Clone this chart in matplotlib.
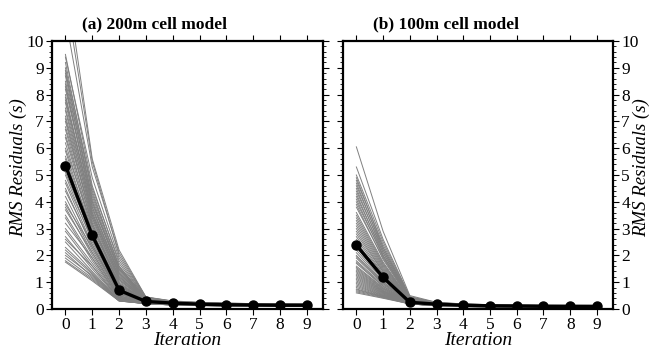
import matplotlib
matplotlib.use("Agg")
import matplotlib.pyplot as plt
from matplotlib.ticker import MultipleLocator

plt.rcParams['font.family'] = ['Liberation Serif', 'DejaVu Serif']

iterations = [0, 1, 2, 3, 4, 5, 6, 7, 8, 9]
titles = ["(a) 200m cell model", "(b) 100m cell model"]
ylabel = "RMS Residuals (s)"
xlabel = "Iteration"

# mean curves (black)
mean_a = [5.35, 2.75, 0.70, 0.28, 0.22, 0.18, 0.16, 0.15, 0.14, 0.14]
mean_b = [2.38, 1.18, 0.25, 0.18, 0.14, 0.12, 0.11, 0.10, 0.10, 0.10]

# individual curves (gray), one list per iteration, one value per curve
gray_a = [
    [12.5, 11.8, 10.9, 9.5, 9.4, 9.2, 9.0, 8.9, 8.8, 8.7, 8.5, 8.4, 8.3, 8.2, 8.0, 7.9, 7.8, 7.7, 7.5, 7.4,
     7.2, 7.1, 7.0, 6.8, 6.7, 6.5, 6.4, 6.2, 6.0, 5.9, 5.7, 5.6, 5.5, 5.3, 5.1, 5.0, 4.8, 4.7, 4.5, 4.4,
     4.2, 4.0, 3.9, 3.8, 3.7, 3.5, 3.4, 3.2, 3.0, 2.9, 2.7, 2.6, 2.5, 2.3, 2.2, 2.1, 2.0, 1.9, 1.8, 1.75],
    [5.6, 5.5, 5.3, 4.6, 4.9, 4.3, 4.5, 4.1, 4.4, 4.0, 4.2, 3.8, 4.0, 3.9, 3.6, 3.8, 3.7, 3.5, 3.6, 3.4,
     3.5, 3.3, 3.2, 3.4, 3.1, 3.2, 3.0, 2.9, 3.1, 2.8, 2.9, 2.7, 2.8, 2.6, 2.7, 2.5, 2.6, 2.4, 2.3, 2.4,
     2.2, 2.1, 2.3, 2.0, 2.1, 1.9, 1.8, 1.9, 1.7, 1.6, 1.5, 1.6, 1.4, 1.35, 1.3, 1.2, 1.25, 1.15, 1.1, 1.05],
    [2.2, 2.0, 2.1, 1.7, 1.9, 1.6, 1.8, 1.5, 1.55, 1.45, 1.6, 1.35, 1.4, 1.5, 1.3, 1.25, 1.35, 1.2, 1.15, 1.1,
     1.2, 1.05, 1.0, 1.1, 0.95, 0.9, 0.95, 0.85, 0.9, 0.8, 0.85, 0.75, 0.8, 0.7, 0.72, 0.65, 0.68, 0.6, 0.62, 0.58,
     0.55, 0.5, 0.56, 0.48, 0.5, 0.45, 0.42, 0.44, 0.4, 0.38, 0.36, 0.37, 0.34, 0.33, 0.32, 0.31, 0.32, 0.3, 0.3, 0.3],
    [0.45, 0.44, 0.44, 0.42, 0.43, 0.40, 0.41, 0.39, 0.40, 0.38, 0.39, 0.37, 0.38, 0.38, 0.36, 0.35, 0.36, 0.34, 0.34, 0.33,
     0.34, 0.32, 0.31, 0.32, 0.30, 0.30, 0.31, 0.29, 0.30, 0.28, 0.29, 0.27, 0.28, 0.27, 0.27, 0.26, 0.26, 0.25, 0.25, 0.25,
     0.24, 0.24, 0.24, 0.23, 0.23, 0.23, 0.22, 0.22, 0.22, 0.21, 0.21, 0.21, 0.21, 0.20, 0.20, 0.20, 0.20, 0.20, 0.20, 0.20],
    [0.30, 0.29, 0.29, 0.28, 0.28, 0.27, 0.27, 0.26, 0.27, 0.26, 0.26, 0.25, 0.25, 0.25, 0.24, 0.24, 0.24, 0.23, 0.23, 0.23,
     0.23, 0.22, 0.22, 0.22, 0.22, 0.21, 0.21, 0.21, 0.21, 0.20, 0.20, 0.20, 0.20, 0.20, 0.19, 0.19, 0.19, 0.19, 0.18, 0.18,
     0.18, 0.18, 0.18, 0.17, 0.17, 0.17, 0.17, 0.17, 0.16, 0.16, 0.16, 0.16, 0.16, 0.16, 0.15, 0.15, 0.15, 0.15, 0.15, 0.15],
    [0.25, 0.24, 0.24, 0.23, 0.23, 0.22, 0.22, 0.22, 0.22, 0.21, 0.21, 0.21, 0.21, 0.20, 0.20, 0.20, 0.20, 0.19, 0.19, 0.19,
     0.19, 0.19, 0.18, 0.18, 0.18, 0.18, 0.18, 0.17, 0.17, 0.17, 0.17, 0.17, 0.17, 0.16, 0.16, 0.16, 0.16, 0.16, 0.16, 0.15,
     0.15, 0.15, 0.15, 0.15, 0.15, 0.14, 0.14, 0.14, 0.14, 0.14, 0.14, 0.14, 0.13, 0.13, 0.13, 0.13, 0.13, 0.13, 0.13, 0.13],
    [0.22, 0.22, 0.21, 0.21, 0.21, 0.20, 0.20, 0.20, 0.20, 0.19, 0.19, 0.19, 0.19, 0.18, 0.18, 0.18, 0.18, 0.18, 0.17, 0.17,
     0.17, 0.17, 0.17, 0.16, 0.16, 0.16, 0.16, 0.16, 0.16, 0.15, 0.15, 0.15, 0.15, 0.15, 0.15, 0.14, 0.14, 0.14, 0.14, 0.14,
     0.14, 0.14, 0.13, 0.13, 0.13, 0.13, 0.13, 0.13, 0.13, 0.12, 0.12, 0.12, 0.12, 0.12, 0.12, 0.12, 0.12, 0.12, 0.12, 0.12],
    [0.20, 0.20, 0.20, 0.19, 0.19, 0.19, 0.19, 0.18, 0.18, 0.18, 0.18, 0.18, 0.17, 0.17, 0.17, 0.17, 0.17, 0.16, 0.16, 0.16,
     0.16, 0.16, 0.16, 0.15, 0.15, 0.15, 0.15, 0.15, 0.15, 0.14, 0.14, 0.14, 0.14, 0.14, 0.14, 0.14, 0.13, 0.13, 0.13, 0.13,
     0.13, 0.13, 0.13, 0.12, 0.12, 0.12, 0.12, 0.12, 0.12, 0.12, 0.12, 0.11, 0.11, 0.11, 0.11, 0.11, 0.11, 0.11, 0.11, 0.11],
    [0.19, 0.19, 0.19, 0.18, 0.18, 0.18, 0.18, 0.17, 0.17, 0.17, 0.17, 0.17, 0.16, 0.16, 0.16, 0.16, 0.16, 0.15, 0.15, 0.15,
     0.15, 0.15, 0.15, 0.14, 0.14, 0.14, 0.14, 0.14, 0.14, 0.14, 0.13, 0.13, 0.13, 0.13, 0.13, 0.13, 0.13, 0.12, 0.12, 0.12,
     0.12, 0.12, 0.12, 0.12, 0.11, 0.11, 0.11, 0.11, 0.11, 0.11, 0.11, 0.11, 0.10, 0.10, 0.10, 0.10, 0.10, 0.10, 0.10, 0.10],
    [0.18, 0.18, 0.18, 0.18, 0.17, 0.17, 0.17, 0.17, 0.17, 0.16, 0.16, 0.16, 0.16, 0.16, 0.15, 0.15, 0.15, 0.15, 0.15, 0.15,
     0.14, 0.14, 0.14, 0.14, 0.14, 0.14, 0.14, 0.13, 0.13, 0.13, 0.13, 0.13, 0.13, 0.13, 0.12, 0.12, 0.12, 0.12, 0.12, 0.12,
     0.12, 0.12, 0.11, 0.11, 0.11, 0.11, 0.11, 0.11, 0.11, 0.11, 0.10, 0.10, 0.10, 0.10, 0.10, 0.10, 0.10, 0.10, 0.10, 0.10],
]

gray_b = [
    [6.05, 5.3, 5.0, 4.9, 4.8, 4.7, 4.6, 4.5, 4.4, 4.3, 4.2, 4.1, 4.0, 3.9, 3.8, 3.6, 3.5, 3.4, 3.3, 3.2,
     3.1, 3.0, 2.9, 2.8, 2.7, 2.6, 2.5, 2.45, 2.4, 2.3, 2.2, 2.1, 2.0, 1.95, 1.9, 1.8, 1.75, 1.7, 1.6, 1.55,
     1.5, 1.45, 1.4, 1.35, 1.3, 1.25, 1.2, 1.15, 1.1, 1.05, 1.0, 0.95, 0.9, 0.85, 0.8, 0.75, 0.72, 0.68, 0.64, 0.6],
    [2.9, 2.6, 2.5, 2.3, 2.4, 2.2, 2.3, 2.1, 2.2, 2.0, 2.1, 1.95, 2.0, 1.85, 1.9, 1.75, 1.7, 1.65, 1.6, 1.55,
     1.5, 1.45, 1.4, 1.38, 1.32, 1.28, 1.22, 1.2, 1.18, 1.12, 1.08, 1.02, 1.0, 0.96, 0.94, 0.9, 0.86, 0.84, 0.8, 0.78,
     0.75, 0.73, 0.7, 0.68, 0.66, 0.64, 0.62, 0.6, 0.58, 0.56, 0.54, 0.52, 0.5, 0.49, 0.47, 0.46, 0.45, 0.44, 0.42, 0.4],
    [0.50, 0.46, 0.45, 0.42, 0.44, 0.40, 0.42, 0.38, 0.40, 0.37, 0.38, 0.36, 0.37, 0.34, 0.35, 0.33, 0.32, 0.32, 0.31, 0.30,
     0.30, 0.29, 0.29, 0.28, 0.28, 0.27, 0.27, 0.26, 0.26, 0.26, 0.25, 0.25, 0.25, 0.24, 0.24, 0.24, 0.23, 0.23, 0.23, 0.23,
     0.22, 0.22, 0.22, 0.22, 0.21, 0.21, 0.21, 0.21, 0.21, 0.20, 0.20, 0.20, 0.20, 0.20, 0.20, 0.20, 0.19, 0.19, 0.19, 0.19],
    [0.25, 0.24, 0.24, 0.23, 0.23, 0.22, 0.22, 0.22, 0.21, 0.21, 0.21, 0.20, 0.20, 0.20, 0.20, 0.19, 0.19, 0.19, 0.19, 0.18,
     0.18, 0.18, 0.18, 0.17, 0.17, 0.17, 0.17, 0.17, 0.16, 0.16, 0.16, 0.16, 0.16, 0.15, 0.15, 0.15, 0.15, 0.15, 0.15, 0.14,
     0.14, 0.14, 0.14, 0.14, 0.14, 0.13, 0.13, 0.13, 0.13, 0.13, 0.13, 0.13, 0.12, 0.12, 0.12, 0.12, 0.12, 0.12, 0.12, 0.12],
    [0.19, 0.19, 0.18, 0.18, 0.18, 0.17, 0.17, 0.17, 0.17, 0.16, 0.16, 0.16, 0.16, 0.16, 0.15, 0.15, 0.15, 0.15, 0.15, 0.14,
     0.14, 0.14, 0.14, 0.14, 0.14, 0.13, 0.13, 0.13, 0.13, 0.13, 0.13, 0.12, 0.12, 0.12, 0.12, 0.12, 0.12, 0.12, 0.11, 0.11,
     0.11, 0.11, 0.11, 0.11, 0.11, 0.11, 0.10, 0.10, 0.10, 0.10, 0.10, 0.10, 0.10, 0.10, 0.10, 0.09, 0.09, 0.09, 0.09, 0.09],
    [0.16, 0.16, 0.16, 0.15, 0.15, 0.15, 0.15, 0.15, 0.14, 0.14, 0.14, 0.14, 0.14, 0.14, 0.13, 0.13, 0.13, 0.13, 0.13, 0.13,
     0.12, 0.12, 0.12, 0.12, 0.12, 0.12, 0.12, 0.11, 0.11, 0.11, 0.11, 0.11, 0.11, 0.11, 0.11, 0.10, 0.10, 0.10, 0.10, 0.10,
     0.10, 0.10, 0.10, 0.10, 0.09, 0.09, 0.09, 0.09, 0.09, 0.09, 0.09, 0.09, 0.09, 0.09, 0.08, 0.08, 0.08, 0.08, 0.08, 0.08],
    [0.15, 0.15, 0.14, 0.14, 0.14, 0.14, 0.14, 0.14, 0.13, 0.13, 0.13, 0.13, 0.13, 0.13, 0.12, 0.12, 0.12, 0.12, 0.12, 0.12,
     0.12, 0.11, 0.11, 0.11, 0.11, 0.11, 0.11, 0.11, 0.11, 0.10, 0.10, 0.10, 0.10, 0.10, 0.10, 0.10, 0.10, 0.10, 0.09, 0.09,
     0.09, 0.09, 0.09, 0.09, 0.09, 0.09, 0.09, 0.09, 0.08, 0.08, 0.08, 0.08, 0.08, 0.08, 0.08, 0.08, 0.08, 0.08, 0.08, 0.08],
    [0.14, 0.14, 0.14, 0.13, 0.13, 0.13, 0.13, 0.13, 0.13, 0.12, 0.12, 0.12, 0.12, 0.12, 0.12, 0.12, 0.11, 0.11, 0.11, 0.11,
     0.11, 0.11, 0.11, 0.11, 0.10, 0.10, 0.10, 0.10, 0.10, 0.10, 0.10, 0.10, 0.10, 0.10, 0.09, 0.09, 0.09, 0.09, 0.09, 0.09,
     0.09, 0.09, 0.09, 0.09, 0.08, 0.08, 0.08, 0.08, 0.08, 0.08, 0.08, 0.08, 0.08, 0.08, 0.08, 0.07, 0.07, 0.07, 0.07, 0.07],
    [0.14, 0.13, 0.13, 0.13, 0.13, 0.13, 0.12, 0.12, 0.12, 0.12, 0.12, 0.12, 0.12, 0.11, 0.11, 0.11, 0.11, 0.11, 0.11, 0.11,
     0.11, 0.10, 0.10, 0.10, 0.10, 0.10, 0.10, 0.10, 0.10, 0.10, 0.10, 0.09, 0.09, 0.09, 0.09, 0.09, 0.09, 0.09, 0.09, 0.09,
     0.09, 0.08, 0.08, 0.08, 0.08, 0.08, 0.08, 0.08, 0.08, 0.08, 0.08, 0.08, 0.07, 0.07, 0.07, 0.07, 0.07, 0.07, 0.07, 0.07],
    [0.13, 0.13, 0.13, 0.13, 0.12, 0.12, 0.12, 0.12, 0.12, 0.12, 0.12, 0.11, 0.11, 0.11, 0.11, 0.11, 0.11, 0.11, 0.11, 0.10,
     0.10, 0.10, 0.10, 0.10, 0.10, 0.10, 0.10, 0.10, 0.10, 0.09, 0.09, 0.09, 0.09, 0.09, 0.09, 0.09, 0.09, 0.09, 0.09, 0.08,
     0.08, 0.08, 0.08, 0.08, 0.08, 0.08, 0.08, 0.08, 0.08, 0.08, 0.07, 0.07, 0.07, 0.07, 0.07, 0.07, 0.07, 0.07, 0.07, 0.07],
]

W, H = 655, 351
fig = plt.figure(figsize=(W / 100, H / 100), dpi=100)
ax_a = fig.add_axes([52 / W, 42 / H, 271 / W, 268 / H])
ax_b = fig.add_axes([343 / W, 42 / H, 270 / W, 268 / H])

for ax, gray, mean, title, side in [(ax_a, gray_a, mean_a, titles[0], 'left'),
                                    (ax_b, gray_b, mean_b, titles[1], 'right')]:
    n_lines = len(gray[0])
    for k in range(n_lines):
        ys = [gray[i][k] for i in range(len(iterations))]
        ax.plot(iterations, ys, color='#808080', lw=0.7, zorder=2)
    ax.plot(iterations, mean, color='black', lw=2.4, marker='o', markersize=6.5, zorder=3)

    ax.set_xlim(-0.5, 9.6)
    ax.set_ylim(0, 10)
    ax.xaxis.set_major_locator(MultipleLocator(1))
    ax.yaxis.set_major_locator(MultipleLocator(1))
    ax.yaxis.set_minor_locator(MultipleLocator(0.2))
    for sp in ax.spines.values():
        sp.set_linewidth(1.6)
    ax.tick_params(axis='both', which='major', direction='out', length=4, width=0.8,
                   labelsize=12.5, top=True, right=True, left=True, bottom=True, pad=2)
    ax.tick_params(axis='y', which='minor', direction='out', length=2, width=0.6,
                   left=True, right=True)
    if side == 'left':
        ax.tick_params(axis='y', labelleft=True, labelright=False)
    else:
        ax.tick_params(axis='y', labelleft=False, labelright=True)
    ax.set_xlabel(xlabel, fontsize=14, style='italic', labelpad=-1)
    ax.text(0.11, 1.0 + 13 / 268, title, transform=ax.transAxes, fontsize=12.5,
            fontweight='bold', ha='left', va='baseline')

fig.text(18 / W, 1 - 168 / H, ylabel, rotation=90, ha='center', va='center',
         fontsize=13.5, style='italic')
fig.text(641 / W, 1 - 168 / H, ylabel, rotation=90, ha='center', va='center',
         fontsize=13.5, style='italic')

fig.savefig('out.png', dpi=100)
